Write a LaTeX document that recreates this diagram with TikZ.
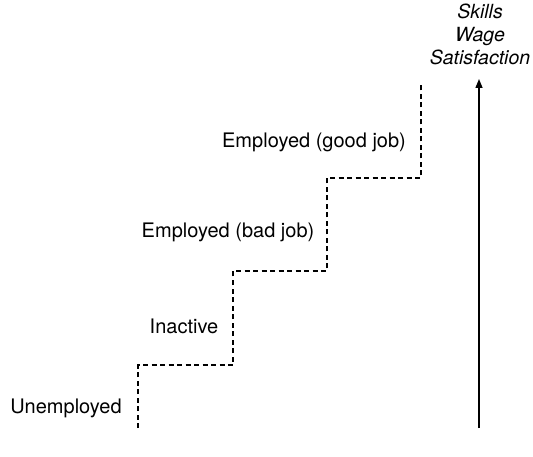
\documentclass[tikz,border=0pt]{standalone}
\usepackage{fontspec}
\setmainfont{TeX Gyre Heros}
\usetikzlibrary{arrows.meta}
\begin{document}
\begin{tikzpicture}[x=1pt,y=-1pt,
  lbl/.style={font=\fontsize{20}{24}\selectfont, inner sep=0pt},
  axislbl/.style={font=\fontsize{19.5}{23}\selectfont\itshape, inner sep=0pt, align=center},
  stair/.style={line width=1.3pt, dash pattern=on 5pt off 3.5pt},
  axis/.style={line width=1.4pt, -{Triangle[length=9pt,width=7pt]}}]
\useasboundingbox (0,0) rectangle (533,457);
\coordinate (s0) at (138,428);
\coordinate (s1) at (138,365);
\coordinate (s2) at (233,365);
\coordinate (s3) at (233,271);
\coordinate (s4) at (327,271);
\coordinate (s5) at (327,178);
\coordinate (s6) at (421,178);
\coordinate (s7) at (421,84);
\draw[stair] (s0) -- (s1) -- (s2) -- (s3) -- (s4) -- (s5) -- (s6) -- (s7);
\coordinate (a0) at (479,428);
\coordinate (a1) at (479,79);
\draw[axis] (a0) -- (a1);
\node[lbl, anchor=base] (unemp) at (66,413) {Unemployed};
\node[lbl, anchor=base] (inact) at (184,333) {Inactive};
\node[lbl, anchor=base] (bad) at (228,238) {Employed (bad job)};
\node[lbl, anchor=base] (good) at (314,148) {Employed (good job)};
\node[axislbl, anchor=base] (skills) at (480,19) {Skills};
\node[axislbl, anchor=base] (wage) at (480,42) {Wage};
\node[axislbl, anchor=base] (satis) at (480,65) {Satisfaction};
\end{tikzpicture}
\end{document}
